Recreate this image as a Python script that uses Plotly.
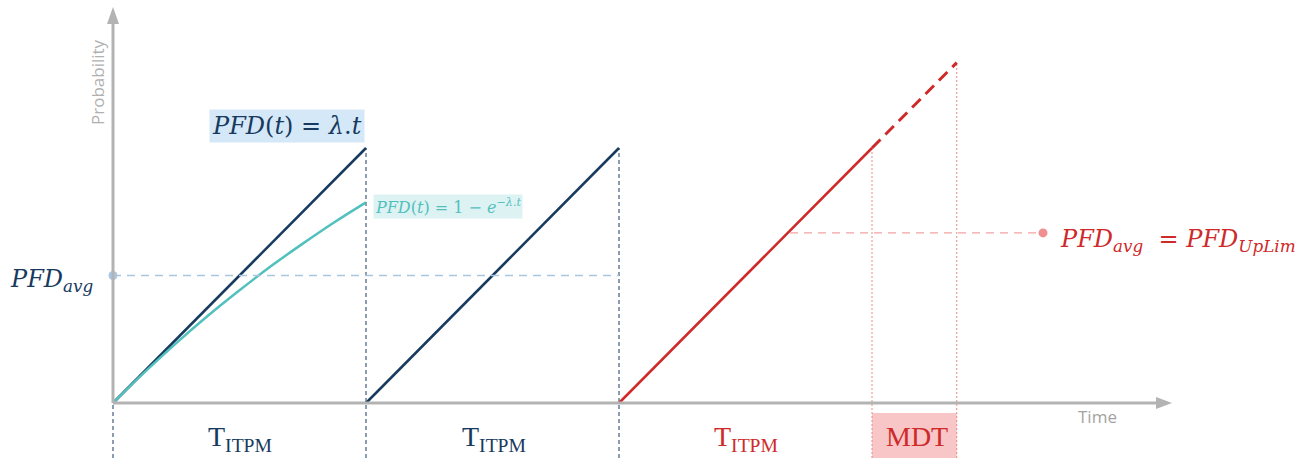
import plotly.graph_objects as go

# --- values -----------------------------------------------------------
# time in units of the proof-test interval T_ITPM, probability in units of λ·T_ITPM
interval_starts = [0.0, 1.0]          # two healthy proof-test cycles
interval_len = 1.0
peak_prob = 1.0                       # λ·T at the end of each interval
failed_start = 2.0                    # third cycle, undetected failure
mdt_len = 0.335                       # mean down time after the interval
pfd_avg = 0.5                         # average of the linear sawtooth
pfd_uplim = 0.667                     # level of the red average line
uplim_line_x = [2.676, 3.676]

# exponential approximation PFD(t) = 1 - e^(-λt), read along the first interval
exp_t = [0.0, 0.125, 0.25, 0.375, 0.5, 0.625, 0.75, 0.875, 1.0]
exp_p = [0.0, 0.121, 0.235, 0.342, 0.442, 0.537, 0.625, 0.709, 0.787]

# --- pixel frame ------------------------------------------------------
W, H = 1312, 458
X0, Y0 = 113, 403          # origin in pixels
SX, SY = 253, 255          # pixels per unit
def fx(px): return (px - X0) / SX
def fy(py): return (Y0 - py) / SY

NAVY = "#173a5e"
TEAL = "#52c0bd"
RED = "#cf2a2a"
AXIS = "#b3b3b3"
LBLUE = "#a9c7e0"
LRED = "#f2a3a3"

ymin = fy(H)
fig = go.Figure()

# healthy sawtooth
sx, sy = [], []
for s in interval_starts:
    sx += [s, s + interval_len, None]
    sy += [0, peak_prob, None]
fig.add_trace(go.Scatter(x=sx, y=sy, mode="lines", line=dict(color=NAVY, width=2.5),
                         hoverinfo="skip"))

# exponential curve
fig.add_trace(go.Scatter(x=exp_t, y=exp_p, mode="lines", line=dict(color=TEAL, width=2.5, shape="spline"),
                         hoverinfo="skip"))

# failed cycle: solid up to the proof test, dashed during MDT
fail_end = failed_start + interval_len
fig.add_trace(go.Scatter(x=[failed_start, fail_end], y=[0, peak_prob], mode="lines",
                         line=dict(color=RED, width=2.5), hoverinfo="skip"))
fig.add_trace(go.Scatter(x=[fail_end, fail_end + mdt_len], y=[peak_prob, peak_prob + mdt_len],
                         mode="lines", line=dict(color=RED, width=3, dash="12px,7px"),
                         hoverinfo="skip"))

# average lines
fig.add_trace(go.Scatter(x=[0, failed_start], y=[pfd_avg, pfd_avg], mode="lines",
                         line=dict(color=LBLUE, width=1.3, dash="8px,6px"), hoverinfo="skip"))
fig.add_trace(go.Scatter(x=[0], y=[pfd_avg], mode="markers",
                         marker=dict(color=LBLUE, size=9), hoverinfo="skip"))
fig.add_trace(go.Scatter(x=uplim_line_x, y=[pfd_uplim, pfd_uplim], mode="lines",
                         line=dict(color=LRED, width=1.3, dash="8px,6px"), hoverinfo="skip"))
fig.add_trace(go.Scatter(x=[uplim_line_x[1]], y=[pfd_uplim], mode="markers",
                         marker=dict(color="#ef8f8f", size=9), hoverinfo="skip"))

shapes = []
# MDT box
shapes.append(dict(type="rect", xref="x", yref="y", x0=fail_end, x1=fail_end + mdt_len,
                   y0=ymin, y1=fy(413), fillcolor="#f8c6c6", line=dict(width=0), layer="below"))
# axes
shapes.append(dict(type="line", x0=0, y0=0, x1=fx(1160), y1=0, line=dict(color=AXIS, width=3)))
shapes.append(dict(type="line", x0=0, y0=0, x1=0, y1=fy(20), line=dict(color=AXIS, width=3)))
shapes.append(dict(type="path", fillcolor=AXIS, line=dict(width=0),
                   path=f"M {fx(1156)} {fy(397)} L {fx(1172)} {fy(403)} L {fx(1156)} {fy(409)} Z"))
shapes.append(dict(type="path", fillcolor=AXIS, line=dict(width=0),
                   path=f"M {fx(107)} {fy(24)} L {fx(113)} {fy(7)} L {fx(119)} {fy(24)} Z"))
# interval boundaries
for xb, ytop in [(0, 0), (interval_starts[1], peak_prob), (failed_start, peak_prob)]:
    shapes.append(dict(type="line", x0=xb, x1=xb, y0=ymin, y1=ytop,
                       line=dict(color=NAVY, width=1, dash="4px,3px"), layer="below"))
for xb, ytop in [(fail_end, peak_prob), (fail_end + mdt_len, peak_prob + mdt_len)]:
    shapes.append(dict(type="line", x0=xb, x1=xb, y0=ymin, y1=ytop,
                       line=dict(color="#e58a8a", width=1, dash="2px,2px"), layer="below"))

SERIF = "DejaVu Serif"
SANS = "Open Sans"
ann = []
def label(px, py, text, color, size, family=SERIF, xanchor="center", **kw):
    ann.append(dict(x=fx(px), y=fy(py), xref="x", yref="y", text=text, showarrow=False,
                    font=dict(family=family, size=size, color=color), xanchor=xanchor,
                    yanchor="middle", **kw))

label(287, 126, "<i>PFD</i>(<i>t</i>) = <i>λ</i>.<i>t</i>", NAVY, 24,
      bgcolor="#d5e8f8", borderpad=2)
label(373, 206, "<i>PFD</i>(<i>t</i>) = 1 − <i>e</i><sup>−<i>λ</i>.<i>t</i></sup>", TEAL, 16,
      xanchor="left", bgcolor="#ddf2f2", borderpad=1)
label(52, 280, "<i>PFD</i><sub><i>avg</i></sub>", NAVY, 24)
label(1058, 240, "<i>PFD</i><sub><i>avg</i></sub>  = <i>PFD</i><sub><i>UpLim</i></sub>", RED, 24,
      xanchor="left")
for cx, col in [(240, NAVY), (494, NAVY), (746, RED)]:
    label(cx, 438, "T<sub>ITPM</sub>", col, 28, family="Liberation Serif")
label(917, 436, "MDT", RED, 28, family="Liberation Serif")
label(1097, 416, "Time", "#a3a3a3", 17, family=SANS)
label(97, 82, "Probability", "#b0b0b0", 17, family=SANS, textangle=-90)

fig.update_layout(
    width=W, height=H, margin=dict(l=0, r=0, t=0, b=0),
    paper_bgcolor="white", plot_bgcolor="white", showlegend=False,
    xaxis=dict(range=[fx(0), fx(W)], visible=False, fixedrange=True),
    yaxis=dict(range=[fy(H), fy(0)], visible=False, fixedrange=True),
    shapes=shapes, annotations=ann,
)

fig.write_html("out.html", config={"displayModeBar": False})
